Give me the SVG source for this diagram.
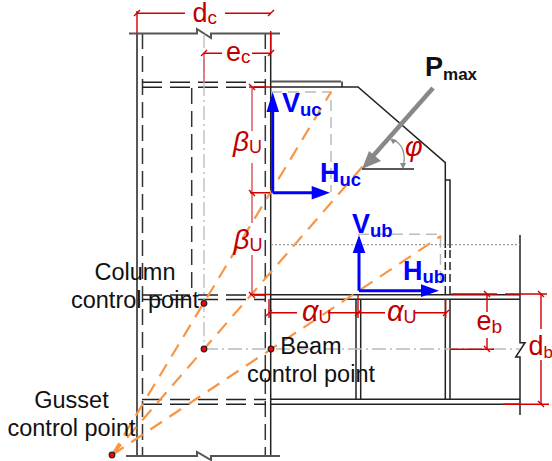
<svg xmlns="http://www.w3.org/2000/svg" width="552" height="461" viewBox="0 0 552 461">
<style>
.s{fill:none;stroke:#222;stroke-width:1.5}
.g{fill:none;stroke:#555;stroke-width:2}
.d{fill:none;stroke:#222;stroke-width:1.5;stroke-dasharray:20 8}
.dv{fill:none;stroke:#333;stroke-width:1.5;stroke-dasharray:16 7}
.dd{fill:none;stroke:#222;stroke-width:1.5;stroke-dasharray:8 4}
.cl{fill:none;stroke:#bbb;stroke-width:1.3;stroke-dasharray:14 4 2 4}
.gd{fill:none;stroke:#bbb;stroke-width:1.5;stroke-dasharray:11 6}
.dt{fill:none;stroke:#999;stroke-width:1.2;stroke-dasharray:2 2}
.or{fill:none;stroke:#f79646;stroke-width:2.200;stroke-dasharray:14 9}
.r{fill:none;stroke:#d00000;stroke-width:1.4}
.rl{fill:none;stroke:#d9666b;stroke-width:1.6}
.b{fill:none;stroke:#0000ff;stroke-width:3}
.bf{fill:#0000ff}
.t{font-family:"Liberation Sans",Arial,sans-serif;font-size:23.500px;fill:#111}
.rt{font-family:"Liberation Sans",Arial,sans-serif;fill:#c00000;font-size:27px}
.it{font-style:italic}
.bt{font-family:"Liberation Sans",Arial,sans-serif;font-weight:700;fill:#0000ff;font-size:27px}
.pt{fill:#f00;stroke:#222;stroke-width:1.2}
</style>
<g id="column">
<path class="s" d="M137 33V456M270.700 33V456"/>
<path class="dv" d="M142.500 33V456M265.300 33V456"/>
<path class="g" d="M129 33.500H197L197 29L211 38L211 33.500H280M126 456H197L197 452L211 460L211 456H280"/>
<path class="d" d="M142 82.300H266M142 87.300H266M142 295H266M142 299.500H266M142 399.500H266M142 404.300H266"/>
<path class="dv" d="M191.700 88V295"/>
<path class="cl" d="M204 34V349"/>
</g>
<g id="gusset">
<path class="g" d="M271 81.500H341"/>
<path class="s" d="M271 87H358L445.300 162.700V248M342 81.500V87M445.300 180H450V248"/>
<path class="dd" d="M445.300 250V294M450 250V294"/>
</g>
<g id="beam">
<path class="s" d="M271 294.700H520M271 299.200H520M271 399.300H520M271 404.300H520"/>
<path class="s" d="M356 299V399M360.700 299V399M445.300 299V399M450 299V399"/>
<path class="s" d="M520 235V342.700L525 342.700L515.700 357H520V415"/>
</g>
<g id="guides">
<path class="gd" d="M271 92H331V192M358 234.300H440.500V283"/>
<path class="dt" d="M271 244.700H520"/>
<path class="cl" d="M204 349H520"/>
</g>
<g id="connectors">
<path class="or" d="M112 455L331 92M112 455L363 166M112 455L441 236"/>
<path class="rl" d="M204 54V83M252 88V131M252 163V193M252 193V223M252 255V294"/>
<path class="r" d="M137 11V33M270.700 31V54M137 13.300H185M225 13.300H271M204 53.300H222M252 53.300H271"/>
<path class="r" d="M249 87H270M250 192.700H270M250 294.500H270"/>
<path class="r" d="M269 299V318M358 295V318M445.700 299V318M270 312.700H297M328 312.700H385M415 312.700H445.700"/>
<path class="r" d="M451.500 294H497M505 294H547M450 349.300H494M487 294V312M487 338V349.300M503 404.300H549M541 294V329M541 360V404.300"/>
<path class="r" d="M134 16L140 10M268 16L274 10M201 56L207 50M268 56L274 50M266 316L272 310M355 316L361 310M443 316L449 310M249 84L255 90M249 190L255 196M249 292L255 298M484 291L490 297M484 346L490 352M538 291L544 297M538 401L544 407"/>
<path class="b" d="M272.700 192.700V110M272.700 192.700H312M359 290.700V253M359 290.700H421"/>
<path class="bf" d="M272.700 92L266.500 112H279ZM330 192.700L311.700 186V199.500ZM359 235L352.700 253H365.300ZM439 290.700L421 284.300V297Z"/>
<path d="M433 88L373 156" fill="none" stroke="#888" stroke-width="4.500"/>
<path d="M362 169L369 151L381 161Z" fill="#888"/>
<path d="M362 169H414" fill="none" stroke="#222" stroke-width="1.300"/>
<path d="M392 139Q408 146 403 168" fill="none" stroke="#888" stroke-width="1.200"/>
<path d="M390 139L397 140L393 144ZM403 169L400 163L406 163Z" fill="#888"/>
</g>
<g id="labels">
<text class="rt" x="192.500" y="22">d<tspan font-size="19" dy="1.500">c</tspan></text>
<text class="rt" x="226" y="61">e<tspan font-size="19" dy="1.500">c</tspan></text>
<text class="rt" x="233" y="151"><tspan class="it" font-size="28">β</tspan><tspan font-size="18" dy="2">U</tspan></text>
<text class="rt" x="233.500" y="249"><tspan class="it" font-size="28">β</tspan><tspan font-size="18" dy="2">U</tspan></text>
<text class="rt" x="302" y="321"><tspan class="it" font-size="29">α</tspan><tspan font-size="18" dy="2">U</tspan></text>
<text class="rt" x="387" y="321"><tspan class="it" font-size="29">α</tspan><tspan font-size="18" dy="2">U</tspan></text>
<text class="rt" x="476.500" y="330">e<tspan font-size="19" dy="3">b</tspan></text>
<text class="rt" x="528.500" y="355" font-size="25">d<tspan font-size="17" dy="3">b</tspan></text>
<text class="rt it" x="405" y="156" font-size="28">φ</text>
<text x="425" y="76" font-family="Liberation Sans,Arial,sans-serif" font-weight="700" font-size="27" fill="#111">P<tspan font-size="17" dy="4">max</tspan></text>
<text class="bt" x="282" y="111.500">V<tspan font-size="18.500" dy="4">uc</tspan></text>
<text class="bt" x="320" y="181.500">H<tspan font-size="18.500" dy="4">uc</tspan></text>
<text class="bt" x="352" y="233">V<tspan font-size="18.500" dy="4">ub</tspan></text>
<text class="bt" x="403" y="280">H<tspan font-size="18.500" dy="3">ub</tspan></text>
<text class="t" x="135" y="280" text-anchor="middle">Column</text>
<text class="t" x="135" y="308" text-anchor="middle">control point</text>
<text class="t" x="71.500" y="407.500" text-anchor="middle">Gusset</text>
<text class="t" x="71.500" y="436" text-anchor="middle">control point</text>
<text class="t" x="311" y="353.500" text-anchor="middle">Beam</text>
<text class="t" x="311" y="381.500" text-anchor="middle">control point</text>
</g>
<g id="control-points">
<circle class="pt" cx="204" cy="303.300" r="2.800"/>
<circle class="pt" cx="204" cy="349" r="2.800"/>
<circle class="pt" cx="271" cy="349" r="2.800"/>
<circle class="pt" cx="112" cy="455" r="2.800"/>
</g>
</svg>
